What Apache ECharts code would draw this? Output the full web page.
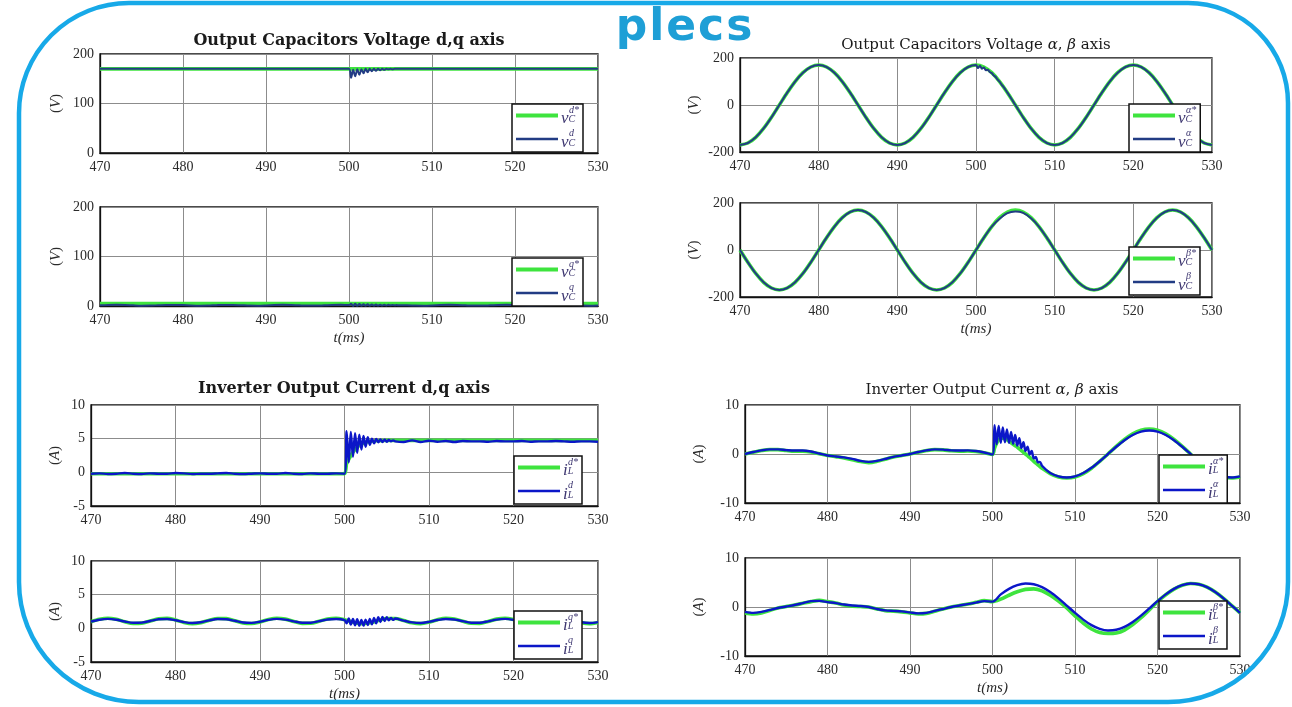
<!DOCTYPE html>
<html>
<head>
<meta charset="utf-8">
<script src="https://cdn.jsdelivr.net/npm/echarts@6/dist/echarts.min.js"></script>
<style>
html, body { margin: 0; padding: 0; background: #fff; }
#chart { width: 1292px; height: 707px; }
</style>
</head>
<body>
<div id="chart"></div>
<script>
// time base, 1 ms steps (ms)
var t = [470,471,472,473,474,475,476,477,478,479,480,481,482,483,484,485,486,487,488,489,
    490,491,492,493,494,495,496,497,498,499,500,501,502,503,504,505,506,507,508,509,
    510,511,512,513,514,515,516,517,518,519,520,521,522,523,524,525,526,527,528,529,530]
// fine time base for the load step transient (ms)
var tr = [500,500.25,500.5,500.75,501,501.25,501.5,501.75,502,502.25,502.5,502.75,503,
    503.25,503.5,503.75,504,504.25,504.5,504.75,505,505.25,505.5,505.75,506]

// --- capacitor voltage d,q (V)
var vdRef = [170,170,170,170,170,170,170,170,170,170,170,170,170,170,170,170,170,170,170,170,
    170,170,170,170,170,170,170,170,170,170,170,170,170,170,170,170,170,170,170,170,
    170,170,170,170,170,170,170,170,170,170,170,170,170,170,170,170,170,170,170,170,170]
var vd = [170,170,170,170,170,170,170,170,170,170,170,170,170,170,170,170,170,170,170,170,
    170,170,170,170,170,170,170,170,170,170,170,170,170,170,170,170,170,170,170,170,
    170,170,170,170,170,170,170,170,170,170,170,170,170,170,170,170,170,170,170,170,170]
var vdTr = [170,152,168,155,169,158,169,161,170,163,170,165,170,166,170,167,170,168,170,169,170,169,170,170,170]
var vqRef = [5,5,5,5,5,5,5,5,5,5,5,5,5,5,5,5,5,5,5,5,5,5,5,5,5,5,5,5,5,5,
    5,5,5,5,5,5,5,5,5,5,5,5,5,5,5,5,5,5,5,5,5,5,5,5,5,5,5,5,5,5,5]
var vq = [1.27,1.97,2.3,1.97,1.27,0.74,0.84,1.48,2.13,2.27,1.77,1.05,0.7,1.0,1.71,2.24,2.18,1.56,0.88,0.72,
    1.19,1.92,2.3,2.04,1.33,0.77,0.8,1.4,2.08,2.28,1.85,1.5,1.2,1.3,1.5,1.6,1.6,1.63,0.95,0.71,
    1.12,1.85,2.28,2.08,1.4,0.8,0.77,1.33,2.04,2.3,1.92,1.19,0.72,0.88,1.56,2.18,2.24,1.71,1.0,0.7,1.05]
var vqTr = [1.85,4.5,0.2,4.3,0.3,4.0,0.4,3.7,0.5,3.4,0.6,3.1,0.7,2.8,0.8,2.6,1.0,2.4,1.1,2.3,1.3,2.1,1.4,1.9,1.6]

// --- inverter current d,q (A)
var idRef = [-0.2,-0.2,-0.2,-0.2,-0.2,-0.2,-0.2,-0.2,-0.2,-0.2,-0.2,-0.2,-0.2,-0.2,-0.2,-0.2,-0.2,-0.2,-0.2,-0.2,
    -0.2,-0.2,-0.2,-0.2,-0.2,-0.2,-0.2,-0.2,-0.2,-0.2,-0.2,3.0,4.2,4.6,4.7,4.7,4.7,4.75,4.75,4.75,
    4.75,4.75,4.75,4.75,4.75,4.75,4.75,4.75,4.75,4.75,4.75,4.75,4.75,4.75,4.75,4.75,4.75,4.75,4.75,4.75,4.75]
var idRefTr = [-0.2,1.3,1.9,2.5,3.0,3.4,3.7,4.0,4.2,4.35,4.45,4.55,4.6,4.63,4.66,4.68,4.7,4.71,4.72,4.73,4.74,4.74,4.75,4.75,4.75]
var id = [-0.2,-0.15,-0.25,-0.2,-0.1,-0.2,-0.25,-0.15,-0.2,-0.2,-0.1,-0.15,-0.25,-0.2,-0.2,-0.15,-0.1,-0.2,-0.25,-0.2,
    -0.15,-0.2,-0.2,-0.1,-0.2,-0.25,-0.15,-0.2,-0.2,-0.15,-0.2,5.0,4.9,4.8,4.7,4.6,4.6,4.5,4.75,4.5,
    4.7,4.55,4.65,4.5,4.65,4.6,4.6,4.55,4.65,4.6,4.6,4.65,4.55,4.6,4.6,4.65,4.6,4.55,4.6,4.6,4.55]
var idTr = [-0.2,6.1,1.5,6.0,2.3,5.8,2.9,5.6,3.4,5.4,3.8,5.2,4.1,5.0,4.3,4.95,4.45,4.9,4.5,4.85,4.55,4.8,4.6,4.75,4.6]
var iqRef = [0.98,1.34,1.5,1.34,0.98,0.72,0.77,1.09,1.42,1.48,1.24,0.88,0.7,0.85,1.2,1.47,1.44,1.13,0.79,0.71,
    0.94,1.31,1.5,1.37,1.02,0.74,0.75,1.05,1.39,1.49,1.28,0.92,0.7,0.82,1.16,1.46,1.46,1.16,0.82,0.7,
    0.91,1.28,1.49,1.39,1.05,0.75,0.74,1.02,1.37,1.5,1.31,0.94,0.71,0.79,1.13,1.44,1.47,1.2,0.85,0.7,0.88]
var iq = [1.01,1.28,1.4,1.28,1.01,0.82,0.85,1.09,1.34,1.39,1.2,0.93,0.8,0.91,1.18,1.38,1.35,1.12,0.87,0.81,
    0.98,1.26,1.4,1.3,1.04,0.83,0.84,1.06,1.32,1.39,1.23,0.97,0.8,0.89,1.15,1.37,1.37,1.15,0.89,0.8,
    0.96,1.23,1.39,1.32,1.06,0.84,0.83,1.04,1.3,1.4,1.26,0.98,0.81,0.87,1.12,1.35,1.38,1.18,0.91,0.8,0.93]
var iqTr = [1.23,0.75,1.45,0.55,1.4,0.45,1.35,0.4,1.25,0.4,1.3,0.5,1.4,0.6,1.55,0.75,1.65,0.95,1.7,1.1,1.65,1.2,1.55,1.25,1.45]

// --- capacitor voltage alpha,beta (V)
var vaRef = [-170,-161.7,-137.5,-99.9,-52.5,0,52.5,99.9,137.5,161.7,170,161.7,137.5,99.9,52.5,0,-52.5,-99.9,-137.5,-161.7,
    -170,-161.7,-137.5,-99.9,-52.5,0,52.5,99.9,137.5,161.7,170,161.7,137.5,99.9,52.5,0,-52.5,-99.9,-137.5,-161.7,
    -170,-161.7,-137.5,-99.9,-52.5,0,52.5,99.9,137.5,161.7,170,161.7,137.5,99.9,52.5,0,-52.5,-99.9,-137.5,-161.7,-170]
var va = [-170,-161.7,-137.5,-99.9,-52.5,0,52.5,99.9,137.5,161.7,170,161.7,137.5,99.9,52.5,0,-52.5,-99.9,-137.5,-161.7,
    -170,-161.7,-137.5,-99.9,-52.5,0,52.5,99.9,137.5,161.7,170,161.7,137.5,99.9,52.5,0,-52.5,-99.9,-137.5,-161.7,
    -170,-161.7,-137.5,-99.9,-52.5,0,52.5,99.9,137.5,161.7,170,161.7,137.5,99.9,52.5,0,-52.5,-99.9,-137.5,-161.7,-170]
var vaTr = [170,157,167,154,160,148,150,140,136,126,119,108,99,87,77,65.1,52.5,39.7,26.6,13.3,0,-13.3,-26.6,-39.7,-52.5]
var vbRef = [0,-52.5,-99.9,-137.5,-161.7,-170,-161.7,-137.5,-99.9,-52.5,0,52.5,99.9,137.5,161.7,170,161.7,137.5,99.9,52.5,
    0,-52.5,-99.9,-137.5,-161.7,-170,-161.7,-137.5,-99.9,-52.5,0,52.5,99.9,137.5,161.7,170,161.7,137.5,99.9,52.5,
    0,-52.5,-99.9,-137.5,-161.7,-170,-161.7,-137.5,-99.9,-52.5,0,52.5,99.9,137.5,161.7,170,161.7,137.5,99.9,52.5,0]
var vb = [0,-52.5,-99.9,-137.5,-161.7,-170,-161.7,-137.5,-99.9,-52.5,0,52.5,99.9,137.5,161.7,170,161.7,137.5,99.9,52.5,
    0,-52.5,-99.9,-137.5,-161.7,-170,-161.7,-137.5,-99.9,-52.5,0,52.5,99.9,133,157,164,158,135,99.9,52.5,
    0,-52.5,-99.9,-137.5,-161.7,-170,-161.7,-137.5,-99.9,-52.5,0,52.5,99.9,137.5,161.7,170,161.7,137.5,99.9,52.5,0]

// --- inverter current alpha,beta (A)
var iaRef = [0,0.35,0.7,0.9,0.9,0.7,0.55,0.55,0.4,0.05,-0.3,-0.55,-0.8,-1.15,-1.55,-1.75,-1.5,-1.05,-0.6,-0.3,
    0,0.35,0.7,0.9,0.85,0.65,0.55,0.6,0.5,0.25,-0.1,3.2,2.6,1.4,0,-1.5,-2.9,-4.0,-4.7,-4.9,
    -4.7,-4.0,-2.9,-1.5,0,1.55,2.95,4.1,4.85,5.1,4.85,4.1,2.95,1.55,0,-1.5,-2.9,-4.0,-4.7,-4.9,-4.7]
var iaRefTr = [-0.1,1.2,2.2,2.9,3.2,3.2,3.1,2.9,2.6,2.3,2.0,1.7,1.4,1.05,0.7,0.35,0,-0.35,-0.7,-1.1,-1.5,-1.85,-2.2,-2.55,-2.9]
var ia = [0,0.4,0.75,0.95,0.95,0.8,0.7,0.7,0.5,0.1,-0.3,-0.5,-0.7,-1.0,-1.4,-1.6,-1.4,-1.0,-0.6,-0.3,
    0,0.4,0.75,0.95,0.9,0.75,0.7,0.75,0.6,0.3,-0.1,2.3,2.3,1.7,0.6,-0.9,-2.4,-3.88,-4.56,-4.8,
    -4.56,-3.88,-2.82,-1.48,0,1.48,2.82,3.88,4.56,4.8,4.56,3.88,2.82,1.48,0,-1.48,-2.82,-3.88,-4.56,-4.8,-4.56]
var iaTr = [-0.1,5.9,2.0,5.7,2.3,5.4,2.4,5.0,2.3,4.5,2.1,3.9,1.7,3.2,1.2,2.4,0.6,1.5,-0.1,0.6,-0.9,-0.6,-1.7,-1.6,-2.4]
var ibRef = [-1.2,-1.4,-1.2,-0.7,-0.2,0.1,0.4,0.75,1.1,1.35,1.1,0.8,0.4,0.15,0.1,0,-0.4,-0.75,-0.85,-1.0,
    -1.2,-1.4,-1.3,-0.85,-0.4,0,0.3,0.6,0.95,1.3,1.1,1.6,2.4,3.1,3.6,3.7,3.3,2.4,1.2,-0.2,
    -1.8,-3.3,-4.5,-5.2,-5.4,-5.3,-4.7,-3.6,-2.2,-0.6,1.1,2.5,3.65,4.45,4.8,4.65,4.05,3.06,1.77,0.3,-1.19]
var ib = [-1.0,-1.2,-1.0,-0.6,-0.2,0.1,0.4,0.8,1.2,1.25,1.0,0.8,0.5,0.3,0.2,0,-0.4,-0.7,-0.8,-0.9,
    -1.1,-1.3,-1.2,-0.8,-0.4,0,0.3,0.6,0.9,1.2,1.1,2.57,3.7,4.46,4.79,4.65,4.05,3.06,1.77,0.3,
    -1.19,-2.57,-3.7,-4.46,-4.79,-4.65,-4.05,-3.06,-1.77,-0.3,1.19,2.57,3.7,4.46,4.79,4.65,4.05,3.06,1.77,0.3,-1.19]

var legendLabel = {
    vdRef: ['v', 'd*', 'C'], vd: ['v', 'd', 'C'], vqRef: ['v', 'q*', 'C'], vq: ['v', 'q', 'C'],
    idRef: ['i', 'd*', 'L'], id: ['i', 'd', 'L'], iqRef: ['i', 'q*', 'L'], iq: ['i', 'q', 'L'],
    vaRef: ['v', 'α*', 'C'], va: ['v', 'α', 'C'], vbRef: ['v', 'β*', 'C'], vb: ['v', 'β', 'C'],
    iaRef: ['i', 'α*', 'L'], ia: ['i', 'α', 'L'], ibRef: ['i', 'β*', 'L'], ib: ['i', 'β', 'L']
}

function pairs (xs, ys) {
    return xs.map(function (x, i) { return [x, ys[i]] })
}
// slow samples outside the step window, fine samples inside it
function withTransient (slow, fast) {
    var a = pairs(t, slow).filter(function (p) { return p[0] < 500 || p[0] > 506 })
    return a.concat(pairs(tr, fast)).sort(function (p, q) { return p[0] - q[0] })
}

var serif = 'Liberation Serif'
var green = '#3ee43e'
var vBlue = '#223c84'
var iBlue = '#0b16c8'
var thickIcon = 'path://M0,0H42V4H0Z'
var thinIcon = 'path://M0,0H42V2.4H0Z'

// layout of the 8 axes
var panels = [
    { grid: { left: 100, top: 54, width: 498, height: 99 }, y: [0, 200, 100], unit: 'V', gap: 36, tname: false,
      leg: { left: 512, top: 104 }, ref: ['vdRef', pairs(t, vdRef)], meas: ['vd', withTransient(vd, vdTr)], blue: vBlue },
    { grid: { left: 100, top: 207, width: 498, height: 99 }, y: [0, 200, 100], unit: 'V', gap: 36, tname: true,
      leg: { left: 512, top: 258 }, ref: ['vqRef', pairs(t, vqRef)], meas: ['vq', withTransient(vq, vqTr)], blue: vBlue },
    { grid: { left: 91, top: 405, width: 507, height: 101 }, y: [-5, 10, 5], unit: 'A', gap: 28, tname: false,
      leg: { left: 514, top: 456 }, ref: ['idRef', withTransient(idRef, idRefTr)], meas: ['id', withTransient(id, idTr)], blue: iBlue },
    { grid: { left: 91, top: 561, width: 507, height: 101 }, y: [-5, 10, 5], unit: 'A', gap: 28, tname: true,
      leg: { left: 514, top: 611 }, ref: ['iqRef', pairs(t, iqRef)], meas: ['iq', withTransient(iq, iqTr)], blue: iBlue },
    { grid: { left: 740, top: 58, width: 472, height: 94 }, y: [-200, 200, 200], unit: 'V', gap: 38, tname: false,
      leg: { left: 1129, top: 104 }, ref: ['vaRef', pairs(t, vaRef)], meas: ['va', withTransient(va, vaTr)], blue: vBlue },
    { grid: { left: 740, top: 203, width: 472, height: 94 }, y: [-200, 200, 200], unit: 'V', gap: 38, tname: true,
      leg: { left: 1129, top: 247 }, ref: ['vbRef', pairs(t, vbRef)], meas: ['vb', pairs(t, vb)], blue: vBlue },
    { grid: { left: 745, top: 405, width: 495, height: 98 }, y: [-10, 10, 10], unit: 'A', gap: 38, tname: false,
      leg: { left: 1159, top: 455 }, ref: ['iaRef', withTransient(iaRef, iaRefTr)], meas: ['ia', withTransient(ia, iaTr)], blue: iBlue },
    { grid: { left: 745, top: 558, width: 495, height: 98 }, y: [-10, 10, 10], unit: 'A', gap: 38, tname: true,
      leg: { left: 1159, top: 601 }, ref: ['ibRef', pairs(t, ibRef)], meas: ['ib', pairs(t, ib)], blue: iBlue }
]

var mathColor = '#3d3670'
var legendRich = {
    pv: { width: 8, fontSize: 7, lineHeight: 7 },
    pi: { width: 5, fontSize: 7, lineHeight: 7 },
    sup: { fontSize: 10, fontStyle: 'italic', fontFamily: serif, lineHeight: 7, color: mathColor },
    b: { fontSize: 17, fontStyle: 'italic', fontFamily: serif, lineHeight: 11, color: mathColor },
    sub: { fontSize: 10, fontStyle: 'italic', fontFamily: serif, lineHeight: 11, verticalAlign: 'bottom', color: mathColor }
}

var grids = [], xAxes = [], yAxes = [], legends = [], series = []
panels.forEach(function (p, i) {
    grids.push(Object.assign({ show: true, borderColor: '#111', borderWidth: 1.3, backgroundColor: '#fff' }, p.grid))
    xAxes.push({
        gridIndex: i, type: 'value', min: 470, max: 530, interval: 10,
        axisLine: { show: true, onZero: false, lineStyle: { color: '#111', width: 1.3 } },
        axisTick: { show: false },
        splitLine: { show: true, lineStyle: { color: '#8c8c8c', width: 1 } },
        axisLabel: { fontFamily: serif, fontSize: 14, color: '#2a2a2a', margin: 7 },
        name: p.tname ? 't(ms)' : '', nameLocation: 'middle', nameGap: 25,
        nameTextStyle: { fontFamily: serif, fontStyle: 'italic', fontSize: 15, color: '#2a2a2a' }
    })
    yAxes.push({
        gridIndex: i, type: 'value', min: p.y[0], max: p.y[1], interval: p.y[2],
        axisLine: { show: true, onZero: false, lineStyle: { color: '#111', width: 1.3 } },
        axisTick: { show: false },
        splitLine: { show: true, lineStyle: { color: '#8c8c8c', width: 1 } },
        axisLabel: { fontFamily: serif, fontSize: 14, color: '#2a2a2a', margin: 6 },
        name: '{n|(}{i|' + p.unit + '}{n|)}', nameLocation: 'middle', nameGap: p.gap, nameRotate: 90,
        nameTextStyle: {
            rich: {
                n: { fontFamily: serif, fontSize: 15, color: '#2a2a2a' },
                i: { fontFamily: serif, fontSize: 15, fontStyle: 'italic', color: '#2a2a2a' }
            }
        }
    })
    legends.push({
        left: p.leg.left, top: p.leg.top, orient: 'vertical',
        data: [{ name: p.ref[0], icon: thickIcon }, { name: p.meas[0], icon: thinIcon }],
        itemWidth: 42, itemHeight: 10, itemGap: 1, padding: [1, 4, 1, 4],
        borderColor: '#111', borderWidth: 1.5, backgroundColor: '#fff', selectedMode: false,
        formatter: function (name) {
            var l = legendLabel[name]
            return '{' + (l[0] === 'v' ? 'pv' : 'pi') + '| }{sup|' + l[1] + '}\n{b|' + l[0] + '}{sub|' + l[2] + '}'
        },
        textStyle: { fontSize: 7, lineHeight: 7, rich: legendRich, padding: [0, 0, 0, -2] }
    })
    series.push({
        name: p.ref[0], type: 'line', xAxisIndex: i, yAxisIndex: i, data: p.ref[1],
        symbol: 'none', smooth: 0.3, z: 2,
        lineStyle: { color: green, width: 3.6 }, itemStyle: { color: green }
    })
    series.push({
        name: p.meas[0], type: 'line', xAxisIndex: i, yAxisIndex: i, data: p.meas[1],
        symbol: 'none', smooth: 0.3, z: 3,
        lineStyle: { color: p.blue, width: p.blue === iBlue ? 2.4 : 2 }, itemStyle: { color: p.blue }
    })
})

var logoStyle = { fontFamily: 'DejaVu Sans', fontWeight: 'bold', fontSize: 44, fill: '#1e9fd6', padding: [0, 1] }

var myChart = echarts.init(document.getElementById('chart'))
myChart.setOption({
    animation: false,
    backgroundColor: '#fff',
    grid: grids,
    xAxis: xAxes,
    yAxis: yAxes,
    legend: legends,
    series: series,
    graphic: [
        {
            type: 'rect', z: 100, silent: true,
            shape: { x: 19, y: 3, width: 1269, height: 699, r: [110, 100, 120, 120] },
            style: { fill: 'none', stroke: '#17a9e8', lineWidth: 4.5 }
        },
        {
            type: 'text', z: 100, x: 684, y: 29,
            style: {
                text: '{l|p}{l|l}{l|e}{l|c}{l|s}', align: 'center', verticalAlign: 'middle',
                rich: { l: logoStyle }
            }
        },
        {
            type: 'text', x: 349, y: 41,
            style: { text: 'Output Capacitors Voltage d,q axis', font: 'bold 16px "DejaVu Serif"', fill: '#1a1a1a', align: 'center', verticalAlign: 'middle' }
        },
        {
            type: 'text', x: 344, y: 389,
            style: { text: 'Inverter Output Current d,q axis', font: 'bold 16px "DejaVu Serif"', fill: '#1a1a1a', align: 'center', verticalAlign: 'middle' }
        },
        {
            type: 'text', x: 976, y: 45,
            style: {
                text: 'Output Capacitors Voltage {i|α}, {i|β} axis', font: '15px "DejaVu Serif"', fill: '#1a1a1a',
                align: 'center', verticalAlign: 'middle',
                rich: { i: { fontFamily: 'DejaVu Serif', fontSize: 15, fontStyle: 'italic', fill: '#1a1a1a' } }
            }
        },
        {
            type: 'text', x: 992, y: 390,
            style: {
                text: 'Inverter Output Current {i|α}, {i|β} axis', font: '15px "DejaVu Serif"', fill: '#1a1a1a',
                align: 'center', verticalAlign: 'middle',
                rich: { i: { fontFamily: 'DejaVu Serif', fontSize: 15, fontStyle: 'italic', fill: '#1a1a1a' } }
            }
        }
    ]
})
window.addEventListener('resize', myChart.resize)
</script>
</body>
</html>
